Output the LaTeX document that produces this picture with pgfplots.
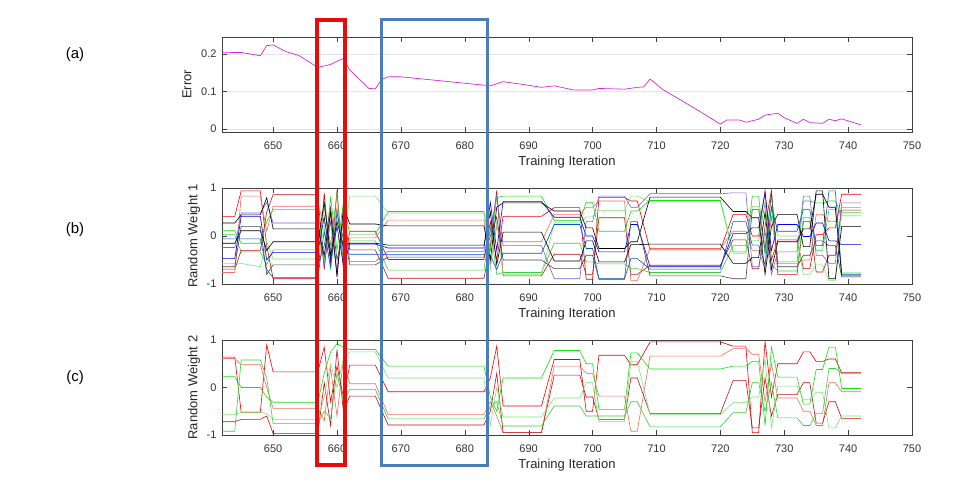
\documentclass[border=0pt]{standalone}
\usepackage{fontspec}
\setmainfont{Liberation Sans}
\usepackage{pgfplots}
\usepackage{pgfplotstable}
\pgfplotsset{compat=1.18}

% weights: piecewise-constant stretches with 1-iteration jumps between them
\pgfplotstableread{
x   r1    r2    r3    g1    g2    g3    b1    b2    b3    k1    k2    k3
642 0.41 -0.69 -0.76  0.11  0.03 -0.57 -0.47 -0.24 -0.06  0.27 -0.15 -0.64
644 0.41 -0.69 -0.76  0.11  0.03 -0.57 -0.47 -0.24 -0.06  0.27 -0.15 -0.64
645 0.94 -0.30  0.83 -0.15 -0.33 -0.57  0.41  0.48 -0.06  0.44  0.11  0.20
648 0.94 -0.30  0.83 -0.15 -0.33 -0.64  0.41  0.48 -0.06  0.44  0.11  0.20
649 -0.20 0.50  0.10  0.30 -0.60 -0.10 -0.50  0.70 -0.70  0.80 -0.30 -0.80
650 -0.89 0.86  0.62  0.55 -0.29 -0.48 -0.34  0.27 -0.87  0.15 -0.12 -0.60
657 -0.89 0.86  0.62  0.55 -0.29 -0.48 -0.34  0.27 -0.87  0.15 -0.12 -0.60
658 0.90 -0.70  0.30 -0.50  0.60  0.20  0.40 -0.60  0.10 -0.40  0.70 -0.20
659 -0.60 0.50 -0.30  0.80 -0.20 -0.70 -0.50  0.30 -0.65  0.50 -0.40  0.60
660 0.95 -0.80  0.60 -0.30  0.90  0.40  0.20 -0.75  0.50 -0.85  0.30 -0.50
661 -0.70 0.40 -0.50  0.70 -0.60 -0.20 -0.60  0.50 -0.30  0.60 -0.20  0.10
662 0.10 -0.29 -0.04  0.04 -0.10  0.83 -0.17 -0.53 -0.38  0.25 -0.15 -0.60
666 0.10 -0.29 -0.04  0.04 -0.10  0.83 -0.17 -0.53 -0.38  0.25 -0.15 -0.60
668 -0.49 -0.88 0.33  0.51 -0.71  0.48 -0.25 -0.32 -0.39  0.21 -0.19 -0.44
683 -0.49 -0.88 0.33  0.51 -0.71  0.48 -0.25 -0.32 -0.39  0.21 -0.19 -0.44
684 0.30 -0.20 -0.60 -0.30  0.20 -0.70  0.70  0.10 -0.40 -0.50  0.50  0.00
685 -0.50 0.95  0.20  0.80 -0.80  0.30 -0.30  0.85 -0.70  0.60 -0.60  0.40
686 0.41 -0.83 -0.12  0.83 -0.76 -0.80  0.72 -0.20 -0.36  0.69  0.08 -0.50
692 0.41 -0.83 -0.12  0.83 -0.76 -0.80  0.72 -0.20 -0.36  0.69  0.08 -0.50
694 0.59 -0.38  0.45  0.32 -0.15  0.27  0.39 -0.89  0.24  0.52 -0.52 -0.68
698 0.59 -0.38  0.45  0.32 -0.15  0.27  0.39 -0.89  0.24  0.52 -0.52 -0.68
699 -0.90 -0.80 0.60  0.70 -0.54  0.40  0.00  0.30 -0.26  0.17 -0.10 -0.40
700 -0.90 -0.80 0.60  0.70 -0.54  0.40  0.00  0.30 -0.26  0.17 -0.10 -0.40
701 0.80  0.38  0.73  0.10 -0.58  0.53 -0.33  0.83 -0.89 -0.26 -0.54 -0.90
705 0.80  0.38  0.73  0.10 -0.58  0.53 -0.33  0.83 -0.89 -0.26 -0.54 -0.90
706 0.73 -0.80 -0.93  0.52 -0.68  0.83  0.24  0.60 -0.47 -0.12 -0.18  0.30
707 0.73 -0.80 -0.93  0.52 -0.68  0.83  0.24  0.60 -0.47 -0.12 -0.18  0.30
709 -0.29 -0.61 -0.26 0.74 -0.76  0.71 -0.64  0.88 -0.69  0.81 -0.17 -0.83
720 -0.29 -0.61 -0.26 0.74 -0.76  0.71 -0.64  0.88 -0.69  0.81 -0.17 -0.83
722 0.45 -0.08  0.10 -0.33 -0.20 -0.36  0.05  0.90  0.30  0.51 -0.57 -0.89
724 0.45 -0.08  0.10 -0.33 -0.20 -0.36  0.05  0.90  0.30  0.51 -0.57 -0.89
725 0.00 -0.68 -0.30  0.83 -0.10  0.62  0.17 -0.64 -0.19  0.38 -0.45  0.55
726 0.00 -0.68 -0.30  0.83 -0.10  0.62  0.17 -0.64 -0.19  0.38 -0.45  0.55
727 0.95  0.20 -0.70 -0.40  0.70 -0.20  0.90  0.10 -0.60 -0.80  0.50 -0.30
728 -0.50 0.95  0.40  0.60 -0.60  0.80 -0.30 -0.80  0.60  0.20 -0.70  0.90
729 -0.08 -0.80 -0.57 -0.54 -0.73 0.00  0.24 -0.33  0.10  0.45 -0.12 -0.64
732 -0.08 -0.80 -0.57 -0.54 -0.73 0.00  0.24 -0.33  0.10  0.45 -0.12 -0.64
733 -0.68 0.30 -0.50  0.73  0.38 -0.80 -0.01  0.83  0.55 -0.22  0.15 -0.40
734 -0.68 0.30 -0.50  0.73  0.38 -0.80 -0.01  0.83  0.55 -0.22  0.15 -0.40
735 0.03 -0.75  0.45  0.69 -0.30 -0.60  0.27 -0.40 -0.20  0.94  0.87 -0.10
736 0.03 -0.75  0.45  0.69 -0.30 -0.60  0.27 -0.40 -0.20  0.94  0.87 -0.10
737 0.17 -0.40  0.30  0.73  0.55 -0.93 -0.10 -0.57  0.94 -0.89  0.60 -0.20
738 0.17 -0.40  0.30  0.73  0.55 -0.93 -0.10 -0.57  0.94 -0.89  0.60 -0.20
739 0.87  0.54  0.59  0.42 -0.77  0.49 -0.18  0.69 -0.80  0.20 -0.83 -0.85
742 0.87  0.54  0.59  0.42 -0.77  0.49 -0.18  0.69 -0.80  0.20 -0.83 -0.85
}\weightone

\pgfplotstableread{
x   r1    r2    r3    g1    g2    g3
642 0.64  0.61 -0.72  0.23 -0.57 -0.92
644 0.64  0.61 -0.72  0.23 -0.57 -0.92
645 -0.52 0.48 -0.67  0.00 -0.52  0.58
648 -0.52 0.48 -0.67  0.00 -0.52  0.58
649 0.90  0.00 -0.60 -0.20 -0.55  0.20
650 0.33 -0.44 -0.97 -0.31 -0.67 -0.76
657 0.33 -0.44 -0.97 -0.31 -0.67 -0.76
658 0.85 -0.70  0.10  0.30 -0.20 -0.50
659 -0.30 0.40 -0.80  0.75  0.50 -0.65
660 0.45 -0.60  0.80  0.92  0.00  0.30
661 -0.20 0.60 -0.50  0.85  0.60 -0.30
662 0.47  0.08 -0.18  0.80  0.75 -0.04
666 0.47  0.08 -0.18  0.80  0.75 -0.04
668 -0.09 -0.57 -0.79 0.45  0.20 -0.66
683 -0.09 -0.57 -0.79 0.45  0.20 -0.66
684 0.20 -0.30 -0.50 -0.20 -0.80 -0.40
685 0.87 -0.60  0.30 -0.50  0.00 -0.30
686 -0.39 -0.95 -0.95 0.20 -0.62 -0.81
692 -0.39 -0.95 -0.95 0.20 -0.62 -0.81
694 0.59  0.45  0.26  0.78 -0.22 -0.39
698 0.59  0.45  0.26  0.78 -0.22 -0.39
699 -0.50 0.30 -0.20  0.50  0.10 -0.60
700 -0.50 0.30 -0.20  0.50  0.10 -0.60
701 0.68 -0.18 -0.67 -0.46 -0.72 -0.60
705 0.68 -0.18 -0.67 -0.46 -0.72 -0.60
706 0.48 -0.92  0.20  0.73  0.55 -0.30
707 0.48 -0.92  0.20  0.73  0.55 -0.30
709 0.96  0.66 -0.55  0.39 -0.57 -0.83
720 0.96  0.66 -0.55  0.39 -0.57 -0.83
722 0.87  0.82  0.15  0.45 -0.32 -0.53
724 0.87  0.82  0.15  0.45 -0.32 -0.53
725 -0.95 0.70 -0.85  0.55 -0.20  0.10
726 -0.95 0.70 -0.85  0.55 -0.20  0.10
727 0.97 -0.30  0.20 -0.80  0.60 -0.50
728 -0.20 0.50 -0.60  0.85 -0.85  0.10
729 0.50 -0.22 -0.15  0.22  0.03 -0.64
732 0.50 -0.22 -0.15  0.22  0.03 -0.64
733 0.75 -0.50  0.10 -0.35 -0.25 -0.80
734 0.75 -0.50  0.10 -0.35 -0.25 -0.80
735 0.55 -0.80 -0.75  0.38 -0.10 -0.55
736 0.55 -0.80 -0.75  0.38 -0.10 -0.55
737 0.60  0.10 -0.30  0.85 -0.85  0.40
738 0.60  0.10 -0.30  0.85 -0.85  0.40
739 0.31 -0.09 -0.65 -0.02 -0.60  0.30
742 0.31 -0.09 -0.65 -0.02 -0.60  0.30
}\weighttwo

\definecolor{mred}{RGB}{240,0,0}
\definecolor{mdred}{RGB}{190,20,20}
\definecolor{msalmon}{RGB}{240,110,100}
\definecolor{mgreen}{RGB}{20,225,20}
\definecolor{mlgreen}{RGB}{120,230,120}
\definecolor{mmgreen}{RGB}{60,205,60}
\definecolor{mblue}{RGB}{0,0,235}
\definecolor{mpurple}{RGB}{125,95,225}
\definecolor{mteal}{RGB}{0,90,200}
\definecolor{mgray}{RGB}{70,70,70}
\definecolor{mmag}{RGB}{215,40,215}
\definecolor{boxblue}{RGB}{74,126,187}
\definecolor{boxred}{RGB}{235,10,10}

\pgfplotsset{
  panel/.style={
    scale only axis, width=690pt,
    xmin=642, xmax=750, xtick={650,660,...,750},
    tick align=inside, major tick length=5pt,
    axis line style={black!75}, tick style={black!75},
    every tick label/.append style={font=\fontsize{11}{13}\selectfont, text=black!80},
    /pgf/number format/assume math mode=true,
    xticklabel shift=6pt, yticklabel shift=2pt,
    label style={font=\fontsize{13}{15}\selectfont, text=black!85},
    xlabel={Training Iteration},
    xlabel style={at={(axis description cs:0.5,0)}, anchor=north, yshift=-21pt},
    ylabel style={at={(axis description cs:0,0.5)}, anchor=center},
    every axis plot/.append style={line width=0.6pt},
  },
  weights/.style={panel, height=95pt, ymin=-1, ymax=1, ytick={-1,0,1},
    ylabel style={yshift=28pt}},
}

\begin{document}
\begin{tikzpicture}
\path[use as bounding box] (0pt,0pt) rectangle (977pt,499pt);

% (a) error
\begin{axis}[panel, at={(222pt,367pt)}, anchor=south west, height=95pt,
  ymin=-0.008, ymax=0.245, ytick={0,0.1,0.2},
  ymajorgrids, grid style={black!10},
  ylabel={Error}, ylabel style={yshift=35pt}]
\addplot[mmag, line width=0.7pt] coordinates {
(642,0.203) (645,0.204) (648,0.195) (649,0.222) (650,0.224) (652,0.206)
(654,0.196) (657,0.164) (659,0.172) (661,0.188) (662,0.157) (665,0.108)
(666,0.107) (667,0.132) (668,0.139) (670,0.139) (684,0.115) (686,0.126)
(689,0.119) (692,0.111) (694,0.115) (697,0.104) (700,0.104) (701,0.108)
(705,0.106) (707,0.111) (708,0.112) (709,0.133) (711,0.105) (716,0.055)
(720,0.013) (721,0.024) (723,0.024) (724,0.018) (726,0.026) (727,0.037)
(729,0.042) (730,0.030) (732,0.015) (733,0.026) (734,0.017) (736,0.015)
(737,0.026) (738,0.022) (739,0.027) (742,0.011)};
\end{axis}

% (b) random weight 1
\begin{axis}[weights, at={(222pt,215pt)}, anchor=south west, height=96pt,
  ylabel={Random Weight 1}]
\addplot[mred]     table[x=x,y=r1] {\weightone};
\addplot[mdred]    table[x=x,y=r2] {\weightone};
\addplot[msalmon]  table[x=x,y=r3] {\weightone};
\addplot[mgreen]   table[x=x,y=g1] {\weightone};
\addplot[mmgreen]  table[x=x,y=g2] {\weightone};
\addplot[mlgreen]  table[x=x,y=g3] {\weightone};
\addplot[mblue]    table[x=x,y=b1] {\weightone};
\addplot[mpurple]  table[x=x,y=b2] {\weightone};
\addplot[mteal]    table[x=x,y=b3] {\weightone};
\addplot[black]    table[x=x,y=k1] {\weightone};
\addplot[black]    table[x=x,y=k2] {\weightone};
\addplot[mgray]    table[x=x,y=k3] {\weightone};
\end{axis}

% (c) random weight 2
\begin{axis}[weights, at={(222pt,64pt)}, anchor=south west,
  ylabel={Random Weight 2}]
\addplot[mred]     table[x=x,y=r1] {\weighttwo};
\addplot[msalmon]  table[x=x,y=r2] {\weighttwo};
\addplot[mdred]    table[x=x,y=r3] {\weighttwo};
\addplot[mgreen]   table[x=x,y=g1] {\weighttwo};
\addplot[mlgreen]  table[x=x,y=g2] {\weighttwo};
\addplot[mmgreen]  table[x=x,y=g3] {\weighttwo};
\end{axis}

% highlight boxes
\draw[boxred, line width=4pt] (316.5pt,34pt) rectangle (344.5pt,479pt);
\draw[boxblue, line width=3pt] (381pt,34pt) rectangle (487pt,479pt);

\node[font=\fontsize{15}{17}\selectfont] at (75pt,444pt) {(a)};
\node[font=\fontsize{15}{17}\selectfont] at (75pt,269pt) {(b)};
\node[font=\fontsize{15}{17}\selectfont] at (75pt,121pt) {(c)};
\end{tikzpicture}
\end{document}
